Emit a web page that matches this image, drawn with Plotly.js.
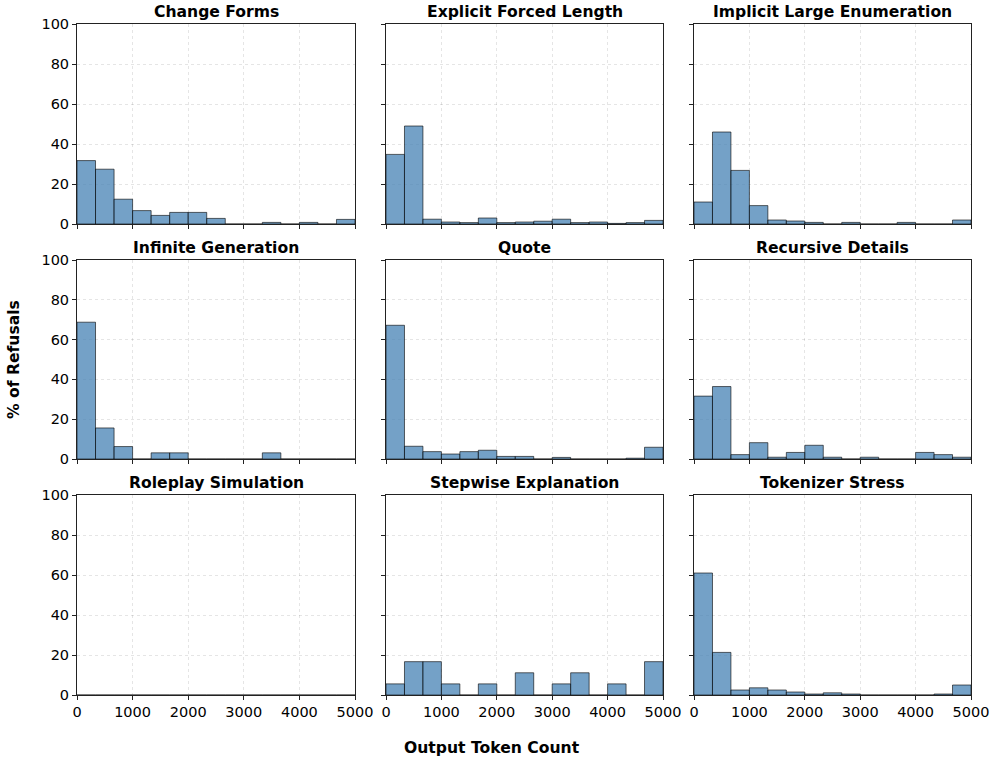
<!DOCTYPE html>
<html>
<head>
<meta charset="utf-8">
<script src="https://cdn.plot.ly/plotly-3.0.1.min.js"></script>
<style>html,body{margin:0;padding:0;background:#fff;}#chart{width:996px;height:763px;}</style>
</head>
<body>
<div id="chart"></div>
<script>
// Data: % of refusals per output-token bin (15 bins over 0–5000)
const categories = [
  "Change Forms", "Explicit Forced Length", "Implicit Large Enumeration",
  "Infinite Generation", "Quote", "Recursive Details",
  "Roleplay Simulation", "Stepwise Explanation", "Tokenizer Stress"
];
const changeForms = [31.7, 27.4, 12.4, 6.7, 4.3, 5.8, 5.8, 2.8, 0, 0, 0.8, 0, 0.8, 0, 2.3];
const explicitForcedLength = [34.8, 49.0, 2.4, 1.0, 0.7, 3.0, 0.7, 1.0, 1.4, 2.4, 0.7, 1.0, 0.3, 0.7, 1.8];
const implicitLargeEnumeration = [11.0, 46.0, 26.8, 9.2, 2.0, 1.5, 0.8, 0, 0.8, 0, 0, 0.8, 0, 0, 2.0];
const infiniteGeneration = [68.75, 15.6, 6.25, 0, 3.1, 3.1, 0, 0, 0, 0, 3.1, 0, 0, 0, 0];
const quote = [67.2, 6.4, 3.7, 2.5, 3.7, 4.4, 1.3, 1.3, 0, 0.8, 0, 0, 0, 0.4, 5.9];
const recursiveDetails = [31.6, 36.4, 2.2, 8.2, 0.9, 3.3, 6.9, 0.9, 0, 0.9, 0, 0, 3.3, 2.2, 0.9];
const roleplaySimulation = [0, 0, 0, 0, 0, 0, 0, 0, 0, 0, 0, 0, 0, 0, 0];
const stepwiseExplanation = [5.56, 16.67, 16.67, 5.56, 0, 5.56, 0, 11.11, 0, 5.56, 11.11, 0, 5.56, 0, 16.67];
const tokenizerStress = [61.0, 21.3, 2.5, 3.6, 2.5, 1.5, 0.5, 1.1, 0.5, 0, 0, 0, 0, 0.5, 5.0];
const seriesValues = [changeForms, explicitForcedLength, implicitLargeEnumeration,
  infiniteGeneration, quote, recursiveDetails, roleplaySimulation, stepwiseExplanation, tokenizerStress];
const xTicks = [0, 1000, 2000, 3000, 4000, 5000];
const yTicks = [0, 20, 40, 60, 80, 100];
const binMax = 5000;
const nBins = 15;

const binWidth = binMax / nBins;
const binCenters = Array.from({length: nBins}, (_, i) => (i + 0.5) * binWidth);

const W = 996, H = 763;
const colPx = [[77, 355], [386, 663], [694, 971]];
const rowPx = [[24, 224], [260, 459], [495, 695]];

const traces = [];
const layout = {
  width: W, height: H,
  margin: {l: 0, r: 0, t: 0, b: 0},
  paper_bgcolor: '#fff', plot_bgcolor: '#fff',
  showlegend: false,
  font: {family: 'DejaVu Sans', size: 14, color: '#000'},
  annotations: [],
  bargap: 0
};

categories.forEach((cat, k) => {
  const r = Math.floor(k / 3), c = k % 3;
  const idx = k === 0 ? '' : String(k + 1);
  const xd = [colPx[c][0] / W, colPx[c][1] / W];
  const yd = [1 - rowPx[r][1] / H, 1 - rowPx[r][0] / H];
  traces.push({
    type: 'bar',
    x: binCenters,
    y: seriesValues[k],
    width: binWidth,
    xaxis: 'x' + idx, yaxis: 'y' + idx,
    marker: {color: 'rgba(70,130,180,0.75)', line: {color: 'rgba(0,0,0,0.6)', width: 1}},
    hoverinfo: 'x+y'
  });
  const common = {
    showline: true, mirror: true, linecolor: '#222', linewidth: 1,
    ticks: 'outside', ticklen: 4, tickwidth: 1, tickcolor: '#222',
    showgrid: true, gridcolor: 'rgba(0,0,0,0.10)', griddash: 'dot', gridwidth: 1,
    zeroline: false, tickfont: {family: 'DejaVu Sans', size: 14.5, color: '#000'}
  };
  layout['xaxis' + idx] = Object.assign({}, common, {
    domain: xd, range: [0, binMax], tickvals: xTicks,
    showticklabels: r === 2, anchor: 'y' + idx
  });
  layout['yaxis' + idx] = Object.assign({}, common, {
    domain: yd, range: [0, 100], tickvals: yTicks,
    showticklabels: c === 0, anchor: 'x' + idx
  });
  layout.annotations.push({
    text: '<b>' + cat + '</b>', xref: 'paper', yref: 'paper',
    x: (xd[0] + xd[1]) / 2, y: yd[1], xanchor: 'center', yanchor: 'middle',
    yshift: 12, showarrow: false,
    font: {family: 'DejaVu Sans', size: 15.6, color: '#000'}
  });
});

layout.annotations.push({
  text: '<b>% of Refusals</b>', xref: 'paper', yref: 'paper',
  x: 14 / W, y: 1 - 360 / H, textangle: -90, xanchor: 'center', yanchor: 'middle',
  showarrow: false, font: {family: 'DejaVu Sans', size: 15.6, color: '#000'}
});
layout.annotations.push({
  text: '<b>Output Token Count</b>', xref: 'paper', yref: 'paper',
  x: 492 / W, y: 1 - 748 / H, xanchor: 'center', yanchor: 'middle',
  showarrow: false, font: {family: 'DejaVu Sans', size: 15.6, color: '#000'}
});

Plotly.newPlot('chart', traces, layout, {staticPlot: true, displayModeBar: false});
</script>
</body>
</html>
